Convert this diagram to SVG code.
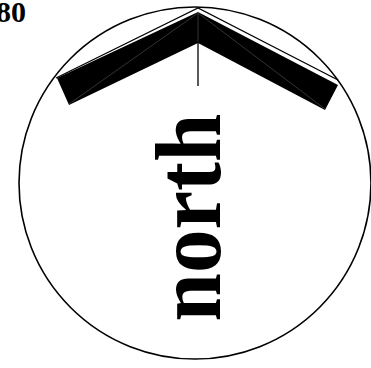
<svg xmlns="http://www.w3.org/2000/svg" width="371" height="368" viewBox="0 0 371 368">
<style>
.ring{fill:none;stroke:#000;stroke-width:1.6}
.thin{fill:none;stroke:#000;stroke-width:1.3}
.seam{fill:none;stroke:#555;stroke-width:0.6}
.lbl{font-family:"Liberation Serif","Times New Roman",serif;font-weight:bold;fill:#000}
</style>
<rect width="371" height="368" fill="#fff"/>
<g id="label80"><text class="lbl" x="26" y="22" font-size="30" text-anchor="end">80</text></g>
<g id="compass">
<circle class="ring" cx="195" cy="183" r="176"/>
<polyline class="thin" points="56,78 198,8 338,80"/>
<polygon fill="#000" points="198,12 338,85 325,110 198,43 69,105 57,78"/>
<line class="seam" x1="198" y1="13" x2="69" y2="104"/>
<line class="seam" x1="198" y1="13" x2="325" y2="109"/>
<line class="seam" x1="198" y1="14" x2="198" y2="42"/>
<line class="thin" x1="198" y1="43" x2="198" y2="86"/>
<text class="lbl" font-size="87" text-anchor="middle" transform="translate(220,217.5) rotate(-90) scale(1,1.06)">north</text>
</g>
</svg>
